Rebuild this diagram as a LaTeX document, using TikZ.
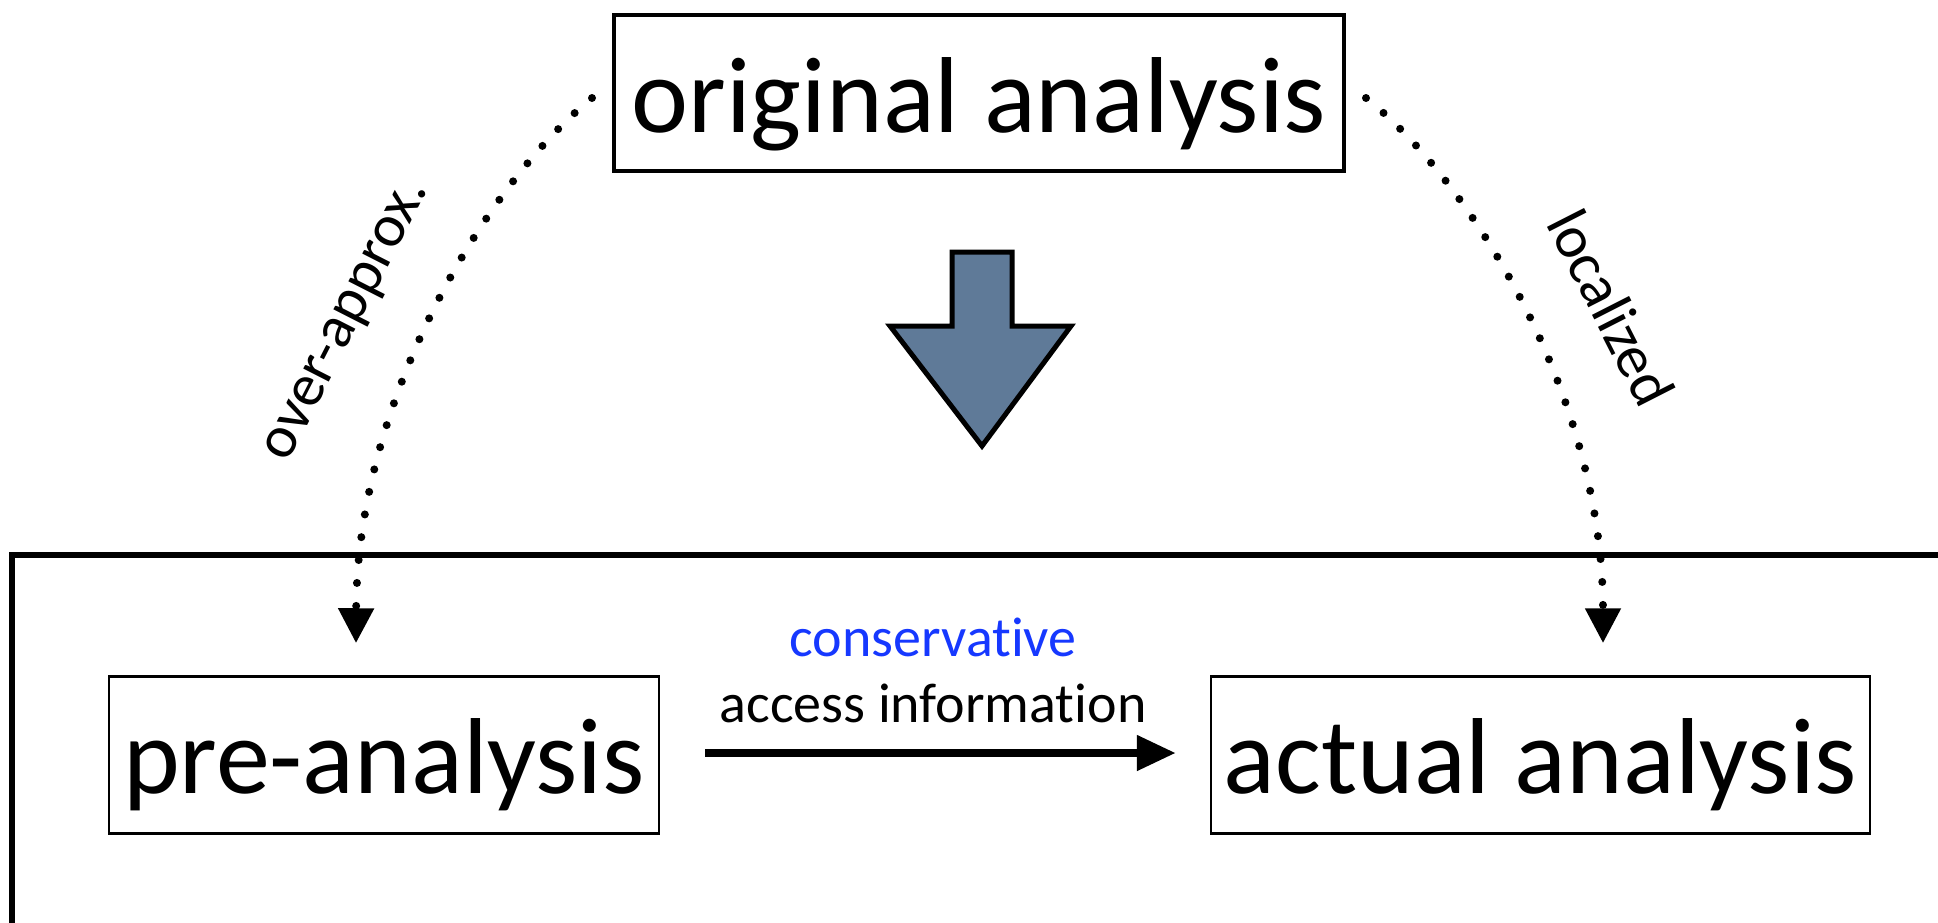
\documentclass[tikz,border=0pt]{standalone}
\usepackage{fontspec}
\setmainfont{Carlito}[Ligatures=NoCommon]
\usetikzlibrary{arrows.meta}
\definecolor{conblue}{RGB}{22,56,255}
\definecolor{arrowfill}{RGB}{95,122,152}
\tikzset{
  bigbox/.style={draw, line width=1.25pt, inner sep=0pt, font=\fontsize{54}{60}\selectfont, text height=48.5pt, text depth=10pt, minimum height=78.5pt},
  dotline/.style={line width=4pt, line cap=round, dash pattern=on 0pt off 11.5pt, -{Triangle[width=17pt,length=17.5pt]}},
  sidelabel/.style={font=\fontsize{30}{32}\selectfont, inner sep=0pt, anchor=base},
  midlabel/.style={font=\fontsize{28}{32}\selectfont, inner sep=0pt, anchor=base},
  bigarrow/.style={line width=2.5pt, fill=arrowfill, line join=miter},
  flowarrow/.style={line width=4pt, -{Triangle[width=17pt,length=19.5pt]}},
  framebox/.style={line width=3pt}
}
\begin{document}
\begin{tikzpicture}[x=0.5pt,y=-0.5pt]
\useasboundingbox (0,0) rectangle (1938,922);
\clip (0,0) rectangle (1938,922);
\fill[white] (0,0) rectangle (1938,922);
\draw[framebox] (12,555) rectangle (1990,990);
\node[bigbox, line width=2pt, minimum width=365pt, minimum height=78pt, text height=49pt] (orig) at (979,93) {original analysis};
\node[bigbox, minimum width=275pt] (pre) at (384,755) {pre-analysis};
\node[bigbox, minimum width=329.5pt] (act) at (1540.5,755) {actual analysis};
\draw[bigarrow] (952,252) -- (1012,252) -- (1012,326) -- (1071,326) -- (982,446) -- (890,326) -- (952,326) -- cycle;
\draw[dotline] ([shift={(-20,5)}]orig.west) .. controls (485,185) and (357,400) .. ([shift={(-28,-32)}]pre.north);
\draw[dotline] ([shift={(20,5)}]orig.east) .. controls (1475,185) and (1603,400) .. ([shift={(62.5,-32)}]act.north);
\draw[flowarrow] ([shift={(45,-2)}]pre.east) -- ([shift={(-34,-2)}]act.west);
\node[midlabel, text=conblue] (cons) at (933,656) {conservative};
\node[midlabel] (acc) at (933,722) {access information};
\node[sidelabel, rotate=63] (over) at (358,326) {over-approx.};
\node[sidelabel, rotate=-63] (loc) at (1593,317) {localized};
\end{tikzpicture}
\end{document}
